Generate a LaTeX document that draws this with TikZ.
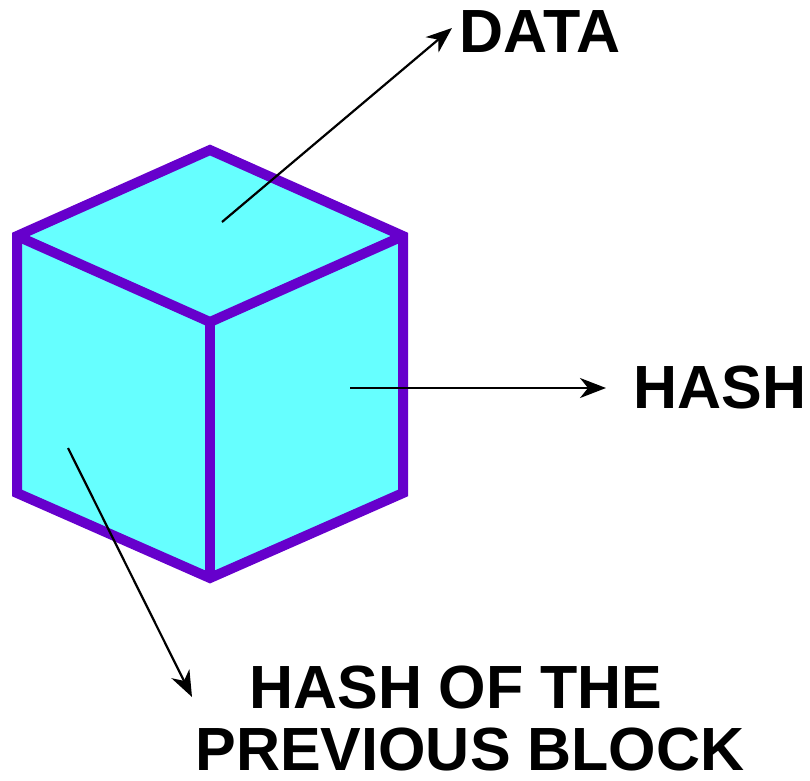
\documentclass[tikz,border=0pt]{standalone}
\usepackage{fontspec}
\setmainfont{Liberation Sans}
\usetikzlibrary{arrows.meta}
\definecolor{edgepurple}{HTML}{6600CC}
\definecolor{facecyan}{HTML}{66FFFF}
\tikzset{
  face/.style={fill=facecyan},
  edge/.style={draw=edgepurple, line width=10pt, line join=miter, line cap=butt},
  pointer/.style={draw=black, line width=2.2pt, -{Stealth[length=26pt,width=20pt,inset=8pt]}},
  lbl/.style={font=\fontsize{61}{64}\selectfont\bfseries, inner sep=0pt, text depth=0pt, anchor=base}
}
\begin{document}
\begin{tikzpicture}[x=1pt,y=-1pt]
\useasboundingbox (0,0) rectangle (810,780);
% cube corners
\coordinate (T)  at (210,150);
\coordinate (LT) at (17,236);
\coordinate (RT) at (403,236);
\coordinate (C)  at (210,322);
\coordinate (LB) at (17,493);
\coordinate (RB) at (403,493);
\coordinate (B)  at (210,578);
% faces
\path[face] (T) -- (RT) -- (RB) -- (B) -- (LB) -- (LT) -- cycle;
% outline and inner edges
\path[edge] (T) -- (RT) -- (RB) -- (B) -- (LB) -- (LT) -- cycle;
\path[edge] (LT) -- (C) -- (RT);
\path[edge] (C) -- (B);
% labels (placed by baseline)
\node[lbl] (data) at (540,52) {DATA};
\node[lbl] (hash) at (720,408) {HASH};
\node[lbl] (prev1) at (456,708) {HASH OF THE};
\node[lbl] (prev2) at (470,770) {PREVIOUS BLOCK};
% pointer origins on the faces
\coordinate (top)   at (222,222);
\coordinate (right) at (350,388);
\coordinate (left)  at (68,448);
\coordinate (dataend) at (452,28);
\coordinate (hashend) at (606,388);
\coordinate (prevend) at (192,697);
\draw[pointer] (top) -- (dataend);
\draw[pointer] (right) -- (hashend);
\draw[pointer] (left) -- (prevend);
\end{tikzpicture}
\end{document}
